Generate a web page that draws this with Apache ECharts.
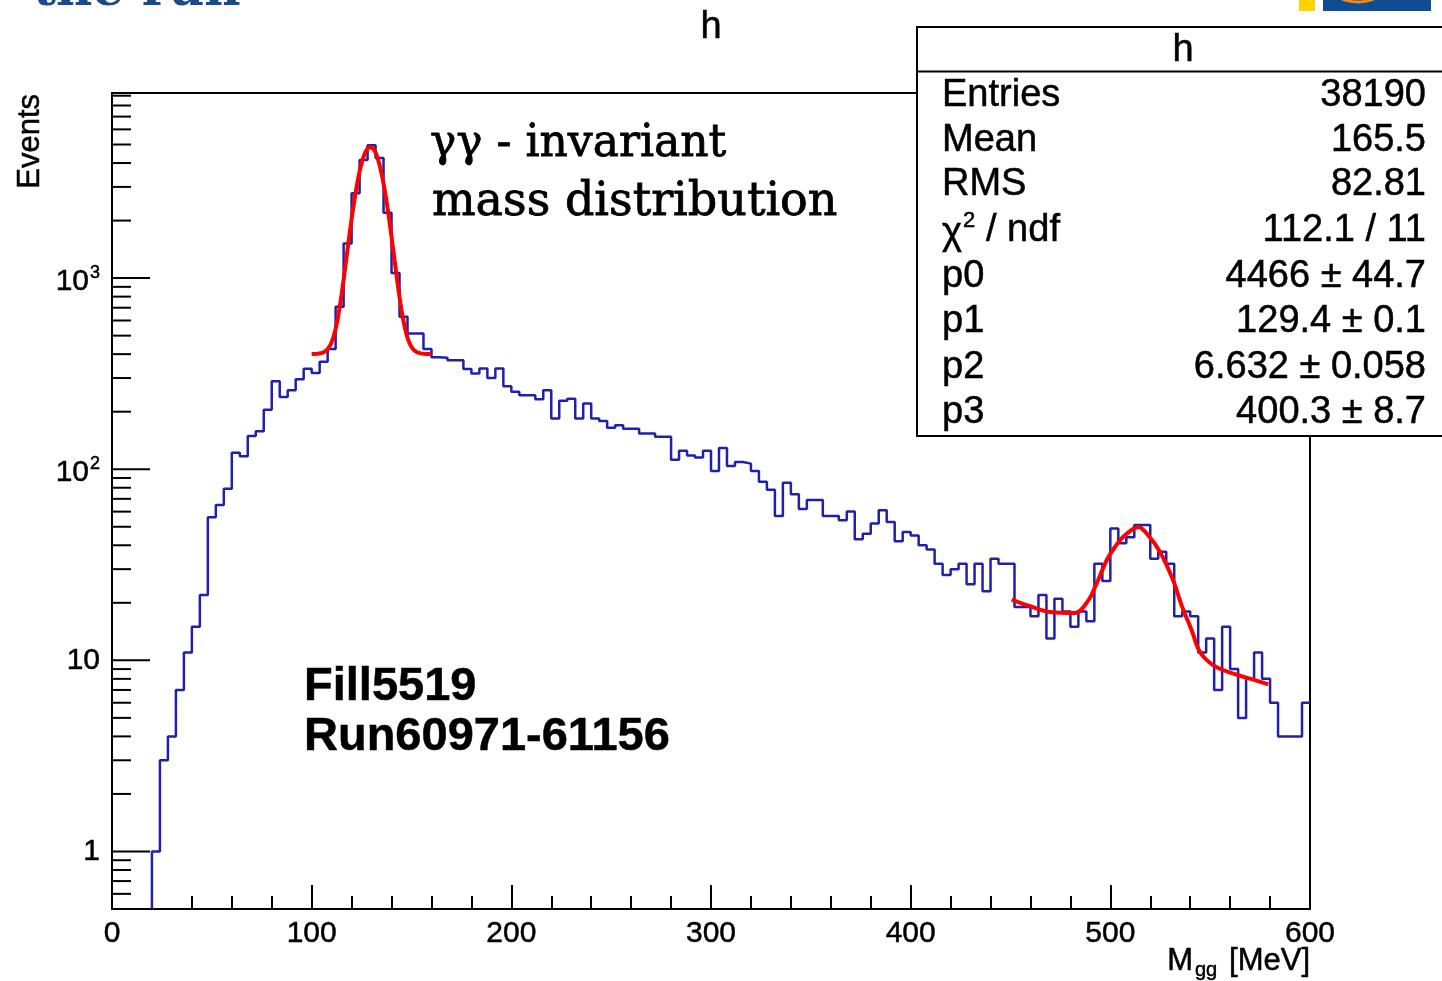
<!DOCTYPE html>
<html>
<head>
<meta charset="utf-8">
<title>h</title>
<script src="https://cdn.jsdelivr.net/npm/echarts@6/dist/echarts.min.js"></script>
<style>
  html, body { margin: 0; padding: 0; background: #fff; }
  #chart { width: 1442px; height: 981px; }
</style>
</head>
<body>
<div id="chart"></div>
<script>
// Histogram h: diphoton invariant mass, 4 MeV bins (low edge in MeV, events)
const binWidth = 4;
const binLowEdges = [
  20, 24, 28, 32, 36, 40, 44, 48, 52, 56,
  60, 64, 68, 72, 76, 80, 84, 88, 92, 96,
  100, 104, 108, 112, 116, 120, 124, 128, 132, 136,
  140, 144, 148, 152, 156, 160, 164, 168, 172, 176,
  180, 184, 188, 192, 196, 200, 204, 208, 212, 216,
  220, 224, 228, 232, 236, 240, 244, 248, 252, 256,
  260, 264, 268, 272, 276, 280, 284, 288, 292, 296,
  300, 304, 308, 312, 316, 320, 324, 328, 332, 336,
  340, 344, 348, 352, 356, 360, 364, 368, 372, 376,
  380, 384, 388, 392, 396, 400, 404, 408, 412, 416,
  420, 424, 428, 432, 436, 440, 444, 448, 452, 456,
  460, 464, 468, 472, 476, 480, 484, 488, 492, 496,
  500, 504, 508, 512, 516, 520, 524, 528, 532, 536,
  540, 544, 548, 552, 556, 560, 564, 568, 572, 576,
  580, 584, 588, 592, 596
];
const binCounts = [
  1, 3, 4, 7, 11, 15, 22, 56, 65, 79,
  122, 117, 149, 158, 205, 289, 239, 259, 296, 336,
  319, 365, 425, 708, 1517, 2780, 4150, 4960, 4250, 2200,
  1062, 627, 513, 513, 426, 385, 383, 372, 372, 334,
  317, 337, 300, 337, 272, 254, 244, 244, 232, 259,
  184, 228, 234, 184, 221, 184, 179, 165, 170, 163,
  163, 154, 154, 148, 148, 112, 125, 118, 115, 125,
  98, 129, 104, 109, 107, 98, 86, 78, 57, 85,
  74, 62, 69, 69, 57, 57, 54, 60, 43, 46,
  52, 61, 53, 42, 47, 45, 40, 38, 32, 28,
  30, 32, 25, 32, 23, 34, 32, 32, 19, 19,
  17, 22, 13, 21, 18, 15, 18, 16, 32, 26,
  49, 41, 44, 51, 51, 34, 37, 32, 17, 18,
  17, 11, 13, 7, 15, 9, 5, 8, 11, 8,
  6, 4, 4, 4, 6
];

// Statistics box
const statsNames = ['Entries', 'Mean', 'RMS', 'chi2', 'p0', 'p1', 'p2', 'p3'];
const statsValues = ['38190', '165.5', '82.81', '112.1 / 11', '4466 \u00b1 44.7', '129.4 \u00b1 0.1', '6.632 \u00b1 0.058', '400.3 \u00b1 8.7'];

// pi0 fit: gaus(p0, p1, p2) + p3 over 100-160 MeV
const fitParams = [4466, 129.4, 6.632, 400.3];
const fitRange = [100, 160];
const fitStep = 0.5;

// eta region fit curve (MeV, events)
const etaFitMass = [450.6, 459.8, 469.8, 482.3, 489.0, 493.1, 498.2, 502.3, 507.3, 514.0,
                    519.0, 524.9, 531.5, 535.7, 540.7, 544.9, 551.6, 561.6, 571.6, 579.1];
const etaFitEvents = [20.8, 19.2, 17.9, 17.7, 20.6, 25.2, 33.4, 39.2, 45.1, 49.9,
                      45.1, 36.9, 26.2, 19.4, 14.4, 11.05, 9.42, 8.51, 7.93, 7.48];

// Axes
const xRange = [0, 600];
const xMajorStep = 100;
const yRange = [0.5, 9300];
const yMajorTicks = [1, 10, 100, 1000];
const yMinorTicks = [0.6, 0.7, 0.8, 0.9,
  2, 3, 4, 5, 6, 7, 8, 9,
  20, 30, 40, 50, 60, 70, 80, 90,
  200, 300, 400, 500, 600, 700, 800, 900,
  2000, 3000, 4000, 5000, 6000, 7000, 8000, 9000];
const yLabelBase = ['1', '10', '10', '10'];
const yLabelExp = ['', '', '2', '3'];

const SANS = '"Liberation Sans", Arial, Helvetica, sans-serif';
const SERIF = '"DejaVu Serif", serif';
const HIST_COLOR = '#2020aa';
const INK = { stroke: '#000', lineWidth: 0.5 };

// step outline: rise from the axis floor at the first edge, close at the last edge
const histPoints = [[binLowEdges[0], yRange[0]]];
binLowEdges.forEach((e, i) => histPoints.push([e, binCounts[i]]));
histPoints.push([binLowEdges[binLowEdges.length - 1] + binWidth, binCounts[binCounts.length - 1]]);

// fitted function evaluated with the quoted parameters
const pi0Fit = [];
for (let m = fitRange[0]; m <= fitRange[1] + 1e-9; m += fitStep) {
  const z = (m - fitParams[1]) / fitParams[2];
  pi0Fit.push([m, fitParams[0] * Math.exp(-0.5 * z * z) + fitParams[3]]);
}
const etaFit = etaFitMass.map((m, i) => [m, etaFitEvents[i]]);

const tickData = yMajorTicks.map(v => [0, v, 1]).concat(yMinorTicks.map(v => [0, v, 0]));

function renderTick(params, api) {
  const p = api.coord([0, api.value(1)]);
  const len = api.value(2) ? 38 : 19;
  return {
    type: 'line',
    shape: { x1: p[0], y1: p[1], x2: p[0] + len, y2: p[1] },
    style: { stroke: '#000', lineWidth: 2 }
  };
}

function textStyle(text, x, y, font, align) {
  return Object.assign({ text: text, x: x, y: y, align: align || 'left', verticalAlign: 'middle',
                         font: font, fill: '#000' }, INK);
}

function renderYLabel(params, api) {
  const i = params.dataIndex;
  const p = api.coord([0, api.value(1)]);
  const right = p[0] - 12;
  if (!yLabelExp[i]) {
    return { type: 'text', style: textStyle(yLabelBase[i], right, p[1], '30px ' + SANS, 'right') };
  }
  return {
    type: 'group',
    children: [
      { type: 'text', style: textStyle(yLabelBase[i], right - 11, p[1] + 4, '30px ' + SANS, 'right') },
      { type: 'text', style: textStyle(yLabelExp[i], right, p[1] - 5, '18px ' + SANS, 'right') }
    ]
  };
}

// statistics box graphics
const STAT_FONT = '38px ' + SANS;
const statsRowY = [95.7, 140.5, 184.5, 230.5, 276.5, 322, 367.5, 412.5];
const statsGraphics = [
  { type: 'rect', z: 100, shape: { x: 917, y: 27, width: 540, height: 409 },
    style: { fill: '#fff', stroke: '#000', lineWidth: 2 } },
  { type: 'line', z: 101, shape: { x1: 917, y1: 71.5, x2: 1442, y2: 71.5 },
    style: { stroke: '#000', lineWidth: 2 } },
  { type: 'text', z: 101, style: textStyle('h', 1183, 51, STAT_FONT, 'center') }
];
statsNames.forEach((name, i) => {
  const y = statsRowY[i];
  if (name === 'chi2') {
    statsGraphics.push({ type: 'text', z: 101, style: textStyle('\u03c7', 942, y + 3, STAT_FONT) });
    statsGraphics.push({ type: 'text', z: 101, style: textStyle('2', 963, y - 10, '22px ' + SANS) });
    statsGraphics.push({ type: 'text', z: 101, style: textStyle('/ ndf', 986, y, STAT_FONT) });
  } else {
    statsGraphics.push({ type: 'text', z: 101, style: textStyle(name, 942, y, STAT_FONT) });
  }
  statsGraphics.push({ type: 'text', z: 101, style: textStyle(statsValues[i], 1426, y, STAT_FONT, 'right') });
});

const chart = echarts.init(document.getElementById('chart'), null, { renderer: 'canvas' });

chart.setOption({
  animation: false,
  backgroundColor: '#fff',
  grid: {
    left: 112, right: 132, top: 93, bottom: 72,
    show: true, borderColor: '#000', borderWidth: 2, backgroundColor: 'transparent'
  },
  xAxis: {
    type: 'value',
    min: xRange[0], max: xRange[1], interval: xMajorStep,
    axisLine: { show: true, lineStyle: { color: '#000', width: 2 } },
    axisTick: { show: true, inside: true, length: 24, lineStyle: { color: '#000', width: 2 } },
    minorTick: { show: true, splitNumber: 5, length: 13, lineStyle: { color: '#000', width: 2 } },
    axisLabel: { fontSize: 30, fontFamily: SANS, color: '#000', margin: 10,
                 textBorderColor: '#000', textBorderWidth: 0.5 },
    splitLine: { show: false }
  },
  yAxis: {
    type: 'log', logBase: 10,
    min: yRange[0], max: yRange[1],
    axisLine: { show: true, lineStyle: { color: '#000', width: 2 } },
    axisTick: { show: false },
    axisLabel: { show: false },
    splitLine: { show: false },
    minorTick: { show: false }
  },
  series: [
    {
      name: 'h', type: 'line', step: 'end', data: histPoints,
      showSymbol: false, symbol: 'none',
      lineStyle: { color: HIST_COLOR, width: 2.5 }, z: 3
    },
    {
      name: 'pi0 fit', type: 'line', data: pi0Fit,
      showSymbol: false, symbol: 'none',
      lineStyle: { color: '#ff0000', width: 4 }, z: 4
    },
    {
      name: 'eta fit', type: 'line', data: etaFit, smooth: 0.35,
      showSymbol: false, symbol: 'none',
      lineStyle: { color: '#ff0000', width: 4 }, z: 4
    },
    {
      type: 'custom', renderItem: renderTick, data: tickData, z: 5, silent: true
    },
    {
      type: 'custom', renderItem: renderYLabel,
      data: yMajorTicks.map(v => [0, v]), z: 5, silent: true
    }
  ],
  graphic: [
    // slide heading and logo strip at the top edge
    { type: 'text', x: 33, y: -8, z: 50,
      style: { text: 'the run', align: 'left', verticalAlign: 'middle',
               font: 'bold 50px ' + SERIF, fill: '#1a4a8c' } },
    { type: 'rect', z: 50, shape: { x: 1299, y: 0, width: 16, height: 11 }, style: { fill: '#ffd200' } },
    { type: 'rect', z: 50, shape: { x: 1323, y: 0, width: 108, height: 11 }, style: { fill: '#0f4c92' } },
    { type: 'ellipse', z: 51, shape: { cx: 1358, cy: -5, rx: 19, ry: 7 },
      style: { fill: 'none', stroke: '#f08a1c', lineWidth: 3 } },
    // histogram title
    { type: 'text', z: 50, style: textStyle('h', 711, 28, '38px ' + SANS, 'center') },
    // axis titles
    { type: 'text', x: 30, y: 94, rotation: Math.PI / 2, z: 50,
      style: textStyle('Events', 0, 0, '31px ' + SANS, 'right') },
    { type: 'text', z: 50, style: textStyle('[MeV]', 1310, 961, '31px ' + SANS, 'right') },
    { type: 'text', z: 50, style: textStyle('gg', 1195, 970, '20px ' + SANS) },
    { type: 'text', z: 50, style: textStyle('M', 1193, 961, '31px ' + SANS, 'right') },
    // annotations
    { type: 'text', x: 430, y: 145, z: 50,
      style: { text: '\u03b3\u03b3 - invariant', align: 'left', verticalAlign: 'middle',
               font: '44px ' + SERIF, fill: '#000', stroke: '#000', lineWidth: 0.8 } },
    { type: 'text', x: 432, y: 203, z: 50,
      style: { text: 'mass distribution', align: 'left', verticalAlign: 'middle',
               font: '46px ' + SERIF, fill: '#000', stroke: '#000', lineWidth: 0.8 } },
    { type: 'text', z: 50, style: textStyle('Fill5519', 304, 687, 'bold 47px ' + SANS) },
    { type: 'text', z: 50, style: textStyle('Run60971-61156', 304, 737, 'bold 47px ' + SANS) }
  ].concat(statsGraphics)
});
</script>
</body>
</html>
